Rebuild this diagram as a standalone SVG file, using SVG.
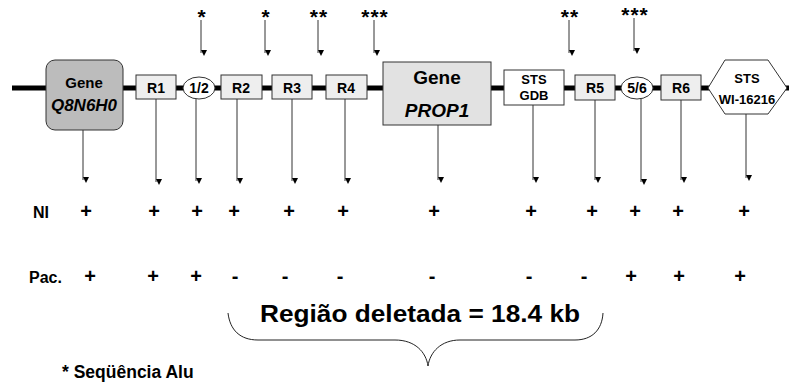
<svg xmlns="http://www.w3.org/2000/svg" width="789" height="387" viewBox="0 0 789 387">
<defs>
<style>
text{font-family:"Liberation Sans",Arial,sans-serif;font-weight:bold;fill:#000;}
.lbl{font-size:14px;text-anchor:middle;}
.sm{font-size:13px;text-anchor:middle;}
.star{font-size:21px;text-anchor:middle;letter-spacing:1px;}
.pm{font-size:20px;text-anchor:middle;}
.row{font-size:16px;}
.box{fill:#eeeeee;stroke:#333;stroke-width:1;}
.arr{stroke:#333;stroke-width:1;fill:none;marker-end:url(#ah);}
</style>
<marker id="ah" viewBox="0 0 6 6" refX="3" refY="6" markerWidth="6" markerHeight="6" markerUnits="userSpaceOnUse" orient="auto-start-reverse">
<path d="M0,0 L6,0 L3,6 Z" fill="#000" transform="rotate(-90 3 3)"/>
</marker>
</defs>
<rect x="0" y="0" width="789" height="387" fill="#fff"/>
<line x1="12" y1="88" x2="789" y2="88" stroke="#000" stroke-width="5"/>

<g id="connectors">
<line class="arr" x1="201" y1="20" x2="201" y2="53"/>
<line class="arr" x1="265" y1="20" x2="265" y2="53"/>
<line class="arr" x1="318" y1="20" x2="318" y2="53"/>
<line class="arr" x1="374" y1="20" x2="374" y2="53"/>
<line class="arr" x1="569" y1="20" x2="569" y2="53"/>
<line class="arr" x1="634" y1="18" x2="634" y2="51"/>
<line class="arr" x1="83" y1="130" x2="83" y2="180"/>
<line class="arr" x1="156" y1="99" x2="156" y2="182"/>
<line class="arr" x1="196" y1="99" x2="196" y2="181"/>
<line class="arr" x1="237" y1="99" x2="237" y2="181"/>
<line class="arr" x1="292" y1="99" x2="292" y2="181"/>
<line class="arr" x1="345" y1="99" x2="345" y2="181"/>
<line class="arr" x1="438" y1="125" x2="438" y2="180"/>
<line class="arr" x1="533" y1="105" x2="533" y2="180"/>
<line class="arr" x1="595" y1="100" x2="595" y2="180"/>
<line class="arr" x1="641" y1="99" x2="641" y2="182"/>
<line class="arr" x1="681" y1="100" x2="681" y2="180"/>
<line class="arr" x1="746" y1="114" x2="746" y2="178"/>
</g>

<g id="stars">
<text class="star" x="202" y="24">*</text>
<text class="star" x="266" y="24">*</text>
<text class="star" x="319" y="24">**</text>
<text class="star" x="375" y="24">***</text>
<text class="star" x="570" y="24">**</text>
<text class="star" x="635" y="22">***</text>
</g>

<g id="gene-q8n6h0">
<rect x="46" y="60" width="77" height="70" rx="9" fill="#bcbcbc" stroke="#333"/>
<text class="lbl" x="84" y="88" style="font-size:15px">Gene</text>
<text class="lbl" x="84" y="111" style="font-size:17px;font-style:italic">Q8N6H0</text>
</g>
<g id="r1"><rect class="box" x="136" y="75" width="40" height="24"/><text class="lbl" x="156" y="93">R1</text></g>
<g id="e12"><ellipse cx="199" cy="88" rx="16" ry="11" fill="#fff" stroke="#333"/><text class="lbl" x="199" y="93">1/2</text></g>
<g id="r2"><rect class="box" x="221" y="75" width="41" height="24"/><text class="lbl" x="241" y="93">R2</text></g>
<g id="r3"><rect class="box" x="272" y="75" width="40" height="24"/><text class="lbl" x="292" y="93">R3</text></g>
<g id="r4"><rect class="box" x="326" y="75" width="41" height="24"/><text class="lbl" x="346" y="93">R4</text></g>
<g id="gene-prop1">
<rect x="383" y="62" width="108" height="63" fill="#e2e2e2" stroke="#333"/>
<text class="lbl" x="437" y="84" style="font-size:19px">Gene</text>
<text class="lbl" x="437" y="117" style="font-size:19px;font-style:italic">PROP1</text>
</g>
<g id="sts-gdb">
<rect x="504" y="70" width="60" height="35" fill="#fff" stroke="#333"/>
<text class="sm" x="534" y="84">STS</text>
<text class="sm" x="534" y="100">GDB</text>
</g>
<g id="r5"><rect class="box" x="575" y="75" width="40" height="25"/><text class="lbl" x="595" y="93">R5</text></g>
<g id="e56"><ellipse cx="637" cy="88" rx="16" ry="11" fill="#fff" stroke="#333"/><text class="lbl" x="637" y="93">5/6</text></g>
<g id="r6"><rect class="box" x="661" y="75" width="40" height="25"/><text class="lbl" x="681" y="93">R6</text></g>
<g id="sts-wi">
<polygon points="708,88 725,60 768,60 787,88 768,114 725,114" fill="#fff" stroke="#333"/>
<text class="sm" x="747" y="83">STS</text>
<text class="sm" x="747" y="104">WI-16216</text>
</g>

<g id="ni-row">
<text class="row" x="33" y="218">NI</text>
<text class="pm" x="86" y="218">+</text>
<text class="pm" x="154" y="218">+</text>
<text class="pm" x="197" y="218">+</text>
<text class="pm" x="234" y="218">+</text>
<text class="pm" x="289" y="218">+</text>
<text class="pm" x="343" y="218">+</text>
<text class="pm" x="434" y="218">+</text>
<text class="pm" x="531" y="218">+</text>
<text class="pm" x="592" y="218">+</text>
<text class="pm" x="635" y="218">+</text>
<text class="pm" x="678" y="218">+</text>
<text class="pm" x="744" y="218">+</text>
</g>
<g id="pac-row">
<text class="row" x="29" y="283">Pac.</text>
<text class="pm" x="90" y="283">+</text>
<text class="pm" x="153" y="283">+</text>
<text class="pm" x="196" y="283">+</text>
<text class="pm" x="235" y="283">-</text>
<text class="pm" x="285" y="283">-</text>
<text class="pm" x="340" y="283">-</text>
<text class="pm" x="432" y="283">-</text>
<text class="pm" x="529" y="283">-</text>
<text class="pm" x="584" y="283">-</text>
<text class="pm" x="631" y="283">+</text>
<text class="pm" x="679" y="283">+</text>
<text class="pm" x="740" y="283">+</text>
</g>

<g id="deleted-region">
<text x="260" y="322" style="font-size:24px" textLength="320" lengthAdjust="spacingAndGlyphs">Região deletada = 18.4 kb</text>
<path d="M228,313 C230,330 240,340 258,340 L395,340 C415,340 426,352 428,366 C430,352 441,340 460,340 L575,340 C592,340 602,330 603,313" fill="none" stroke="#222" stroke-width="1"/>
</g>

<text x="62" y="378" style="font-size:17.5px">* Seqüência Alu</text>
</svg>
